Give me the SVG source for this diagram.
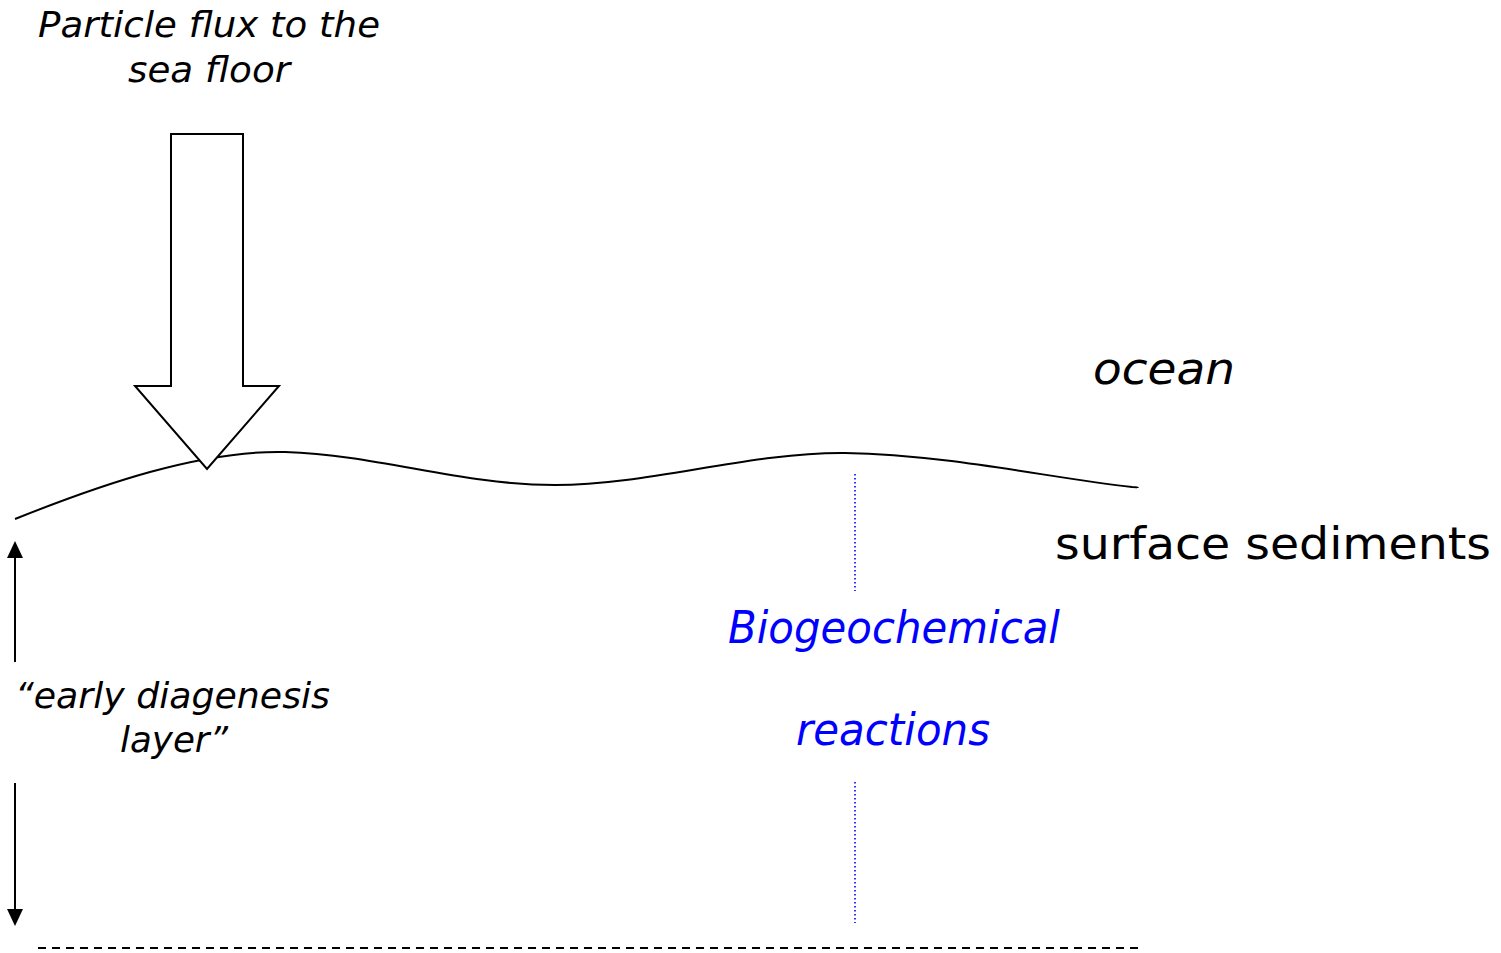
<svg xmlns="http://www.w3.org/2000/svg" width="1501" height="953" viewBox="0 0 1501 953">
<style>
text{font-family:"DejaVu Sans","Liberation Sans",sans-serif;fill:#000}
.it{font-style:italic}
.blue{fill:#0000ff}
.ln{fill:none;stroke:#000;stroke-width:2}
.dot{stroke:#0000ff;stroke-width:1.6;stroke-dasharray:1.6 2.4}
</style>
<defs>
<path id="head" d="M0,0 L-8,17 L8,17 Z" fill="#000"/>
</defs>
<rect width="1501" height="953" fill="#fff"/>
<g id="title">
<text class="it" x="38" y="37" font-size="35" textLength="342" lengthAdjust="spacingAndGlyphs">Particle flux to the</text>
<text class="it" x="128" y="82" font-size="35" textLength="162" lengthAdjust="spacingAndGlyphs">sea floor</text>
</g>
<g id="seafloor">
<path class="ln" d="M15,519 C100,485 200,450 285,452 C380,455 460,485 555,485 C650,485 750,452 845,453 C950,455 1050,478 1132,487 Q1138,487 1138,488"/>
</g>
<g id="flux-arrow">
<path d="M171,134 L243,134 L243,386 L279,386 L207,469 L135,386 L171,386 Z" fill="#fff" stroke="#000" stroke-width="2" stroke-linejoin="miter"/>
</g>
<g id="ocean"><text class="it" x="1093" y="384" font-size="44" textLength="142" lengthAdjust="spacingAndGlyphs">ocean</text></g>
<g id="sediments"><text x="1055" y="559" font-size="44" textLength="436" lengthAdjust="spacingAndGlyphs">surface sediments</text></g>
<g id="reactions">
<text class="it blue" x="728" y="643" font-size="44" textLength="332" lengthAdjust="spacingAndGlyphs">Biogeochemical</text>
<text class="it blue" x="796" y="745" font-size="44" textLength="194" lengthAdjust="spacingAndGlyphs">reactions</text>
</g>
<g id="layer">
<text class="it" x="15" y="708" font-size="35" textLength="315" lengthAdjust="spacingAndGlyphs">“early diagenesis</text>
<text class="it" x="120" y="752" font-size="35" textLength="108" lengthAdjust="spacingAndGlyphs">layer”</text>
</g>
<g id="connectors">
<line x1="15" y1="662" x2="15" y2="550" stroke="#000" stroke-width="2"/>
<use href="#head" transform="translate(15,541)"/>
<line x1="15" y1="783" x2="15" y2="918" stroke="#000" stroke-width="2"/>
<use href="#head" transform="translate(15,926) rotate(180)"/>
<line class="dot" x1="855" y1="474" x2="855" y2="591"/>
<line class="dot" x1="855" y1="782" x2="855" y2="923"/>
<line x1="38" y1="948" x2="1140" y2="948" stroke="#000" stroke-width="2" stroke-dasharray="8 6"/>
</g>
</svg>
